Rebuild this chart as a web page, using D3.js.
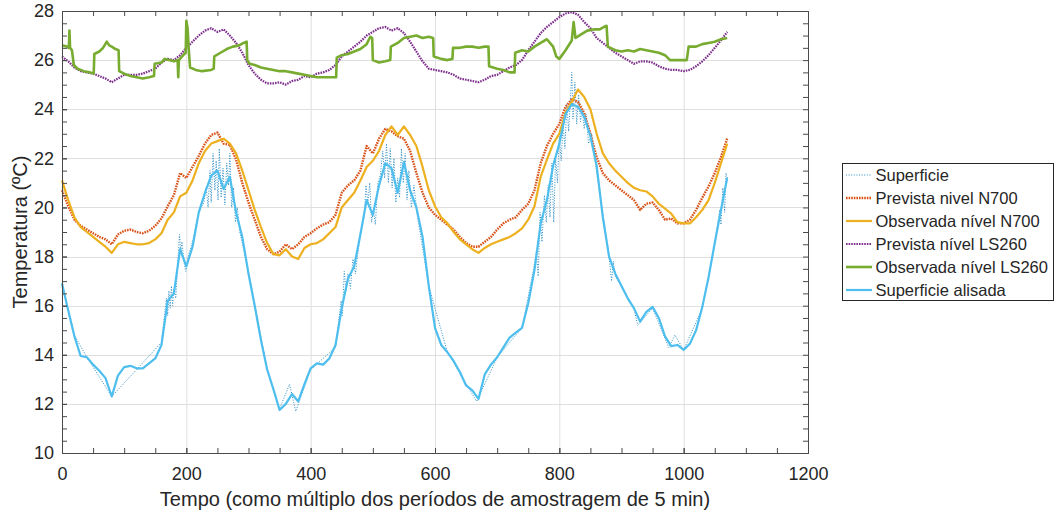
<!DOCTYPE html>
<html>
<head>
<meta charset="utf-8">
<script src="https://cdn.jsdelivr.net/npm/d3@7/dist/d3.min.js"></script>
<style>
  body { margin: 0; background: #fff; }
  text { font-family: "Liberation Sans", Arial, Helvetica, sans-serif; fill: #262626; }
</style>
</head>
<body>
<div id="chart"></div>
<script>
const W = 1056, H = 515;
const M = { left: 62, top: 11, right: 808, bottom: 453 };

// series sampled every 10 periods (t = 0, 10, ..., 1070)
const passo = 10;

const previstaN700 = [
  20.7, 20.05, 19.5, 19.25, 19.1, 18.95, 18.8, 18.7, 18.5, 18.9,
  19.05, 19.1, 19.0, 18.95, 19.05, 19.25, 19.55, 20.05, 20.5, 21.4,
  21.2, 21.65, 22.1, 22.6, 22.95, 23.05, 22.6, 22.55, 21.95, 21.0,
  20.2, 19.5, 18.8, 18.3, 18.1, 18.2, 18.5, 18.3, 18.5, 18.8,
  18.95, 19.15, 19.3, 19.4, 19.7, 20.6, 20.9, 21.1, 21.5, 22.5,
  22.2, 22.8, 23.2, 23.1, 22.9, 22.8, 22.3, 21.4, 20.6, 20.0,
  19.7, 19.5, 19.3, 19.1, 18.8, 18.55, 18.4, 18.4, 18.6, 18.8,
  19.1, 19.35, 19.5, 19.6, 19.9, 20.15, 20.7, 21.8, 22.5, 23.0,
  23.4, 24.1, 24.4, 24.3, 23.85, 23.0, 22.05, 21.4, 21.1, 20.9,
  20.7, 20.5, 20.3, 19.9, 20.15, 20.2, 19.9, 19.5, 19.55, 19.35,
  19.35, 19.5, 19.9, 20.4, 20.85, 21.4, 22.05, 22.8
];

const observadaN700 = [
  21.1, 20.3, 19.6, 19.2, 19.0, 18.8, 18.6, 18.4, 18.15, 18.5,
  18.6, 18.55, 18.5, 18.5, 18.55, 18.7, 18.95, 19.5, 19.8, 20.45,
  20.6, 21.1, 21.8, 22.3, 22.6, 22.7, 22.8, 22.6, 22.2, 21.5,
  20.7, 19.9, 19.2, 18.55, 18.1, 18.05, 18.3, 18.0, 17.9, 18.35,
  18.5, 18.55, 18.7, 18.95, 19.2, 20.0, 20.3, 20.6, 21.1, 21.65,
  21.9, 22.3, 22.95, 23.3, 22.95, 23.3, 22.95, 22.5, 21.65, 20.7,
  20.05, 19.6, 19.35, 19.0, 18.7, 18.5, 18.3, 18.15, 18.35, 18.5,
  18.6, 18.7, 18.8, 18.95, 19.15, 19.5, 20.05, 21.25, 21.95, 22.6,
  23.0, 23.85, 24.3, 24.8, 24.5, 24.0, 23.0, 22.2, 21.8, 21.5,
  21.25, 21.0, 20.8, 20.7, 20.65, 20.45, 20.15, 19.95, 19.75, 19.4,
  19.35, 19.35, 19.6, 19.9, 20.3, 21.0, 21.8, 22.6
];

const previstaLS260 = [
  26.15, 25.95, 25.7, 25.55, 25.5, 25.45, 25.35, 25.25, 25.1, 25.25,
  25.4, 25.4, 25.4, 25.45, 25.55, 25.65, 25.9, 26.05, 26.0, 26.2,
  26.5, 26.75, 27.0, 27.2, 27.3, 27.15, 27.25, 27.0, 26.7, 26.3,
  25.8, 25.45, 25.2, 25.05, 25.05, 25.1, 25.0, 25.15, 25.2, 25.35,
  25.3, 25.45, 25.5, 25.6, 25.8, 26.15, 26.35, 26.55, 26.75, 27.0,
  27.15, 27.3, 27.35, 27.2, 27.3, 27.1, 26.75, 26.35, 25.95, 25.65,
  25.6, 25.55, 25.5, 25.4, 25.25, 25.2, 25.15, 25.1, 25.2, 25.35,
  25.4, 25.55, 25.7, 25.8, 26.0, 26.4, 26.75, 27.1, 27.35, 27.55,
  27.75, 27.9, 27.95, 27.85, 27.55, 27.3, 26.9, 26.7, 26.5, 26.3,
  26.15, 26.0, 25.85, 25.95, 25.95, 25.9, 25.75, 25.65, 25.6, 25.6,
  25.55, 25.6, 25.75, 25.95, 26.2, 26.5, 26.8, 27.15
];

const superficieAlisada = [
  16.9, 15.8, 14.75, 13.95, 13.9, 13.6, 13.35, 13.05, 12.3, 13.15,
  13.5, 13.55, 13.45, 13.45, 13.65, 13.85, 14.4, 16.2, 16.5, 18.3,
  17.6, 18.4, 19.8, 20.6, 21.3, 21.5, 20.75, 21.25, 19.8, 18.8,
  17.3, 16.0, 14.6, 13.4, 12.6, 11.75, 12.0, 12.4, 12.1, 12.8,
  13.45, 13.65, 13.6, 13.85, 14.4, 15.9, 17.1, 17.6, 18.9, 20.3,
  19.7, 20.9, 21.8, 21.6, 20.6, 21.85, 20.7, 20.0, 18.8, 16.8,
  15.1, 14.4, 14.1, 13.75, 13.3, 12.75, 12.55, 12.2, 13.2, 13.6,
  13.9, 14.3, 14.7, 14.9, 15.1, 16.1, 17.45, 19.35, 20.3, 21.7,
  22.6, 23.8, 24.2, 24.1, 23.7, 22.9, 21.7, 19.6, 18.0, 17.3,
  16.8, 16.3, 15.9, 15.35, 15.75, 15.95, 15.5, 14.75, 14.35, 14.4,
  14.2, 14.45, 15.0, 15.95, 17.15, 18.55, 19.9, 21.2
];

// step-like observed series, [tempo, temperatura]
const observadaLS260 = [
  [0, 26.6], [8, 26.55], [11, 26.5], [12, 27.2], [13, 26.5], [16, 26.4], [19, 25.8], [25, 25.65],
  [35, 25.55], [45, 25.5], [51, 25.45], [52, 26.25], [60, 26.35], [66, 26.5], [72, 26.75], [76, 26.6],
  [80, 26.55], [86, 26.45], [91, 26.4], [92, 25.55], [100, 25.45], [110, 25.35], [120, 25.3], [130, 25.25],
  [140, 25.3], [148, 25.35], [149, 25.85], [160, 25.9], [165, 26.05], [172, 26.0], [180, 25.95], [186, 26.0],
  [187, 25.3], [188, 26.0], [195, 26.2], [199, 26.3], [200, 27.6], [202, 27.3], [204, 26.4], [206, 25.7],
  [215, 25.6], [225, 25.55], [240, 25.6], [244, 25.65], [245, 26.15], [255, 26.3], [265, 26.45], [275, 26.55],
  [285, 26.6], [292, 26.7], [297, 26.75], [298, 26.0], [302, 25.85], [310, 25.8], [320, 25.7], [330, 25.65],
  [340, 25.6], [350, 25.55], [360, 25.55], [370, 25.5], [380, 25.45], [390, 25.4], [400, 25.35], [410, 25.3],
  [420, 25.3], [430, 25.3], [441, 25.3], [442, 26.1], [450, 26.2], [460, 26.25], [470, 26.35], [480, 26.45],
  [490, 26.65], [496, 26.95], [499, 26.9], [500, 26.0], [510, 25.9], [520, 25.95], [528, 26.0], [529, 26.55],
  [540, 26.7], [550, 26.9], [560, 26.95], [570, 27.0], [580, 26.9], [590, 26.95], [597, 26.9], [598, 26.15],
  [610, 26.05], [620, 26.0], [628, 26.05], [629, 26.5], [640, 26.5], [650, 26.55], [660, 26.55], [670, 26.5],
  [680, 26.55], [686, 26.55], [687, 25.75], [700, 25.65], [710, 25.6], [720, 25.5], [728, 25.5], [729, 26.3],
  [740, 26.4], [750, 26.35], [760, 26.55], [770, 26.7], [780, 26.85], [790, 26.55], [795, 26.15], [800, 26.05],
  [810, 26.4], [820, 26.8], [823, 27.55], [826, 26.9], [835, 27.05], [845, 27.2], [855, 27.25], [865, 27.25],
  [872, 27.35], [876, 27.4], [878, 26.55], [890, 26.4], [900, 26.35], [910, 26.4], [920, 26.35], [930, 26.45],
  [940, 26.4], [950, 26.35], [960, 26.3], [970, 26.2], [978, 26.0], [990, 26.0], [1005, 26.0], [1008, 26.55],
  [1020, 26.55], [1030, 26.65], [1040, 26.7], [1050, 26.75], [1060, 26.85], [1070, 26.9]
];

// raw surface readings, [tempo, temperatura]
const superficie = [
  [0, 16.9], [20, 14.8], [40, 13.9], [80, 12.3], [120, 13.4], [160, 14.5], [168, 16.3], [170, 15.6],
  [172, 16.6], [174, 15.9], [176, 16.8], [178, 16.0], [180, 16.7], [183, 16.3], [186, 17.6], [189, 18.9],
  [191, 18.2], [193, 18.6], [196, 17.8], [199, 17.4], [203, 18.0], [210, 18.6], [220, 19.8], [228, 20.2],
  [232, 20.8], [235, 20.0], [238, 21.5], [240, 20.2], [243, 22.2], [246, 20.7], [248, 21.9], [251, 20.3],
  [253, 22.4], [256, 20.4], [259, 21.6], [262, 20.1], [265, 21.8], [268, 20.9], [270, 22.2], [273, 20.0],
  [276, 20.8], [279, 19.4], [282, 20.0], [286, 19.0], [300, 17.4], [330, 13.4], [350, 11.8], [366, 12.8],
  [376, 11.7], [400, 13.4], [440, 14.3], [449, 16.2], [451, 15.6], [454, 17.4], [457, 16.6], [460, 17.3],
  [464, 16.7], [468, 17.9], [472, 17.3], [480, 19.0], [486, 19.6], [489, 20.9], [492, 20.2], [495, 21.0],
  [498, 19.4], [501, 19.9], [504, 19.3], [508, 21.0], [512, 21.3], [516, 22.3], [519, 21.2], [522, 22.6],
  [525, 21.0], [528, 22.4], [531, 20.8], [534, 22.0], [537, 20.2], [540, 21.2], [543, 20.4], [546, 22.4],
  [549, 21.0], [552, 22.2], [555, 20.3], [558, 21.5], [562, 20.0], [566, 20.9], [572, 19.6], [590, 16.8],
  [620, 14.1], [667, 12.1], [700, 13.9], [740, 15.1], [758, 17.4], [763, 18.2], [766, 17.2], [769, 19.8],
  [772, 18.6], [776, 20.5], [779, 19.4], [782, 20.9], [785, 19.6], [788, 21.8], [791, 19.4], [794, 22.0],
  [797, 21.0], [800, 22.9], [803, 21.9], [806, 23.4], [809, 22.4], [812, 24.2], [815, 23.1], [818, 24.5],
  [820, 25.5], [822, 23.6], [825, 25.1], [828, 23.4], [831, 24.6], [834, 23.5], [837, 24.0], [840, 23.2],
  [843, 23.8], [847, 22.6], [852, 23.0], [858, 21.8], [866, 20.4], [872, 19.4], [880, 18.0], [884, 17.0],
  [887, 17.8], [890, 17.2], [920, 15.9], [926, 15.2], [950, 15.9], [976, 14.3], [986, 14.8], [1000, 14.2],
  [1030, 15.9], [1040, 17.2], [1050, 18.5], [1058, 19.9], [1060, 19.3], [1063, 20.8], [1066, 19.8], [1068, 21.4],
  [1070, 21.2]
];

const xTicks = [0, 200, 400, 600, 800, 1000, 1200];
const yTicks = [10, 12, 14, 16, 18, 20, 22, 24, 26, 28];

const grid = (arr) => arr.map((v, i) => [i * passo, v]);

const series = [
  { nome: "Superficie", dados: superficie, cor: "#2a8cc6", largura: 1, traco: "1,1.6" },
  { nome: "Prevista nivel N700", dados: grid(previstaN700), cor: "#D95319", largura: 2.4, traco: "1.6,1" },
  { nome: "Observada nível N700", dados: grid(observadaN700), cor: "#EDB120", largura: 2.2, traco: null },
  { nome: "Prevista nível LS260", dados: grid(previstaLS260), cor: "#7E2F8E", largura: 2.2, traco: "1.6,1" },
  { nome: "Observada nível LS260", dados: observadaLS260, cor: "#77AC30", largura: 2.6, traco: null },
  { nome: "Superficie alisada", dados: grid(superficieAlisada), cor: "#4DBEEE", largura: 2.2, traco: null }
];

const svg = d3.select("#chart").append("svg")
  .attr("width", W)
  .attr("height", H);

const x = d3.scaleLinear().domain([0, 1200]).range([M.left, M.right]);
const y = d3.scaleLinear().domain([10, 28]).range([M.bottom, M.top]);

// grid lines
svg.append("g").selectAll("line").data(xTicks.slice(1, -1)).enter().append("line")
  .attr("x1", d => x(d) + 0.5).attr("x2", d => x(d) + 0.5)
  .attr("y1", M.top).attr("y2", M.bottom)
  .attr("stroke", "#dfdfdf").attr("stroke-width", 1);
svg.append("g").selectAll("line").data(yTicks.slice(1, -1)).enter().append("line")
  .attr("y1", d => Math.round(y(d)) + 0.5).attr("y2", d => Math.round(y(d)) + 0.5)
  .attr("x1", M.left).attr("x2", M.right)
  .attr("stroke", "#dfdfdf").attr("stroke-width", 1);

// lines
const line = d3.line().x(d => x(d[0])).y(d => y(d[1]));
const plot = svg.append("g");
series.forEach(s => {
  plot.append("path")
    .datum(s.dados)
    .attr("d", line)
    .attr("fill", "none")
    .attr("stroke", s.cor)
    .attr("stroke-width", s.largura)
    .attr("stroke-linejoin", "round")
    .attr("stroke-dasharray", s.traco);
});

// axes (ticks inside, box on)
const tk = 5;
const xMinor = d3.range(0, 1201, 50);
const yMinor = d3.range(10, 28.01, 0.5);

const axB = svg.append("g").attr("transform", `translate(0,${M.bottom})`)
  .call(d3.axisBottom(x).tickValues(xTicks).tickSize(-tk).tickPadding(14).tickFormat(d3.format("d")));
const axBm = svg.append("g").attr("transform", `translate(0,${M.bottom})`)
  .call(d3.axisBottom(x).tickValues(xMinor).tickSize(-tk).tickFormat(""));
const axT = svg.append("g").attr("transform", `translate(0,${M.top})`)
  .call(d3.axisTop(x).tickValues(xMinor).tickSize(-tk).tickFormat(""));
const axL = svg.append("g").attr("transform", `translate(${M.left},0)`)
  .call(d3.axisLeft(y).tickValues(yTicks).tickSize(-tk).tickPadding(8).tickFormat(d3.format("d")));
const axLm = svg.append("g").attr("transform", `translate(${M.left},0)`)
  .call(d3.axisLeft(y).tickValues(yMinor).tickSize(-tk).tickFormat(""));
const axR = svg.append("g").attr("transform", `translate(${M.right},0)`)
  .call(d3.axisRight(y).tickValues(yMinor).tickSize(-tk).tickFormat(""));

[axB, axBm, axT, axL, axLm, axR].forEach(g => {
  g.select(".domain").attr("stroke", "#4a4a4a");
  g.selectAll(".tick line").attr("stroke", "#4a4a4a");
  g.selectAll(".tick text")
    .style("font-family", '"Liberation Sans", Arial, sans-serif')
    .style("font-size", "18px")
    .attr("fill", "#262626");
});

// axis titles
svg.append("text")
  .attr("x", (M.left + M.right) / 2)
  .attr("y", 506)
  .attr("text-anchor", "middle")
  .style("font-size", "20px")
  .text("Tempo (como múltiplo dos períodos de amostragem de 5 min)");

svg.append("text")
  .attr("transform", `translate(27,${(M.top + M.bottom) / 2}) rotate(-90)`)
  .attr("text-anchor", "middle")
  .style("font-size", "20px")
  .text("Temperatura (ºC)");

// legend
const leg = svg.append("g");
leg.append("rect")
  .attr("x", 842.5).attr("y", 163.5)
  .attr("width", 211).attr("height", 137)
  .attr("fill", "#fff").attr("stroke", "#262626").attr("stroke-width", 1);

const itens = leg.selectAll("g.item").data(series).enter().append("g")
  .attr("transform", (d, i) => `translate(0,${175 + i * 23})`);
itens.append("line")
  .attr("x1", 846).attr("x2", 872)
  .attr("y1", 0).attr("y2", 0)
  .attr("stroke", d => d.cor)
  .attr("stroke-width", d => d.largura)
  .attr("stroke-dasharray", d => d.traco);
itens.append("text")
  .attr("x", 875.5).attr("y", 6)
  .style("font-size", "16.5px")
  .text(d => d.nome);
</script>
</body>
</html>
